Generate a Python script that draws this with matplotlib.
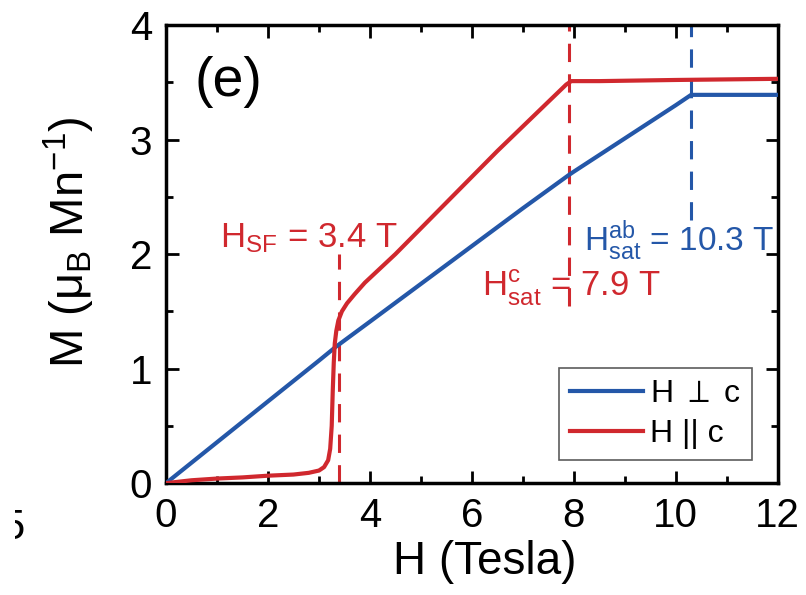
import matplotlib
matplotlib.use("Agg")
import matplotlib.pyplot as plt
from matplotlib.ticker import MultipleLocator
from matplotlib.patches import Rectangle

main = 'Liberation Sans'
plt.rcParams['font.family'] = [main, 'DejaVu Sans']
plt.rcParams['mathtext.fontset'] = 'custom'
plt.rcParams['mathtext.rm'] = main
plt.rcParams['mathtext.it'] = main
plt.rcParams['mathtext.bf'] = main

# Data
H_perp = [0, 1, 2, 3, 3.33, 4, 5, 6, 7, 7.9, 8, 9, 10, 10.3, 10.5, 11, 12]
M_perp = [0, 0.357, 0.714, 1.07, 1.19, 1.41, 1.74, 2.07, 2.40, 2.69, 2.72, 3.01, 3.30, 3.39, 3.39, 3.39, 3.39]

H_par = [0, 0.5, 1, 1.5, 2, 2.5, 2.8, 3.0, 3.1, 3.18, 3.22, 3.25, 3.27, 3.29, 3.31,
         3.34, 3.38, 3.45, 3.55, 3.7, 3.9, 4.5, 5.5, 6.5, 7.5, 7.85, 7.95, 8.5, 10, 12]
M_par = [0, 0.025, 0.04, 0.05, 0.065, 0.075, 0.09, 0.11, 0.14, 0.2, 0.3, 0.5, 0.8, 1.05, 1.22,
         1.33, 1.42, 1.5, 1.57, 1.65, 1.75, 2.0, 2.45, 2.9, 3.33, 3.48, 3.51, 3.51, 3.52, 3.53]

H_SF = 3.4
H_sat_c = 7.9
H_sat_ab = 10.3

blue = '#2457a8'
red = '#d0282e'

fig = plt.figure(figsize=(8.06, 5.95), dpi=100)
ax = fig.add_axes([0.206, 0.188, 0.759, 0.770])

ax.plot(H_perp, M_perp, color=blue, lw=3.0, label=r'H $\perp$ c', zorder=3)
ax.plot(H_par, M_par, color=red, lw=3.0, label='H || c', zorder=3)

ax.plot([H_SF, H_SF], [0, 2.0], color=red, lw=2.2, dashes=(6, 4), zorder=2)
ax.plot([H_sat_c, H_sat_c], [1.55, 4], color=red, lw=2.2, dashes=(6, 4), zorder=2)
ax.plot([H_sat_ab, H_sat_ab], [2.3, 4], color=blue, lw=2.2, dashes=(6, 4), zorder=2)

ax.text(1.05, 2.14, r'H$_{\mathrm{SF}}$ = 3.4 T', color=red, fontsize=25, va='center', ha='left')
ax.text(6.2, 1.7, r'H$^{\mathrm{c}}_{\mathrm{sat}}$ = 7.9 T', color=red, fontsize=25, va='center', ha='left')
ax.text(8.2, 2.12, r'H$^{\mathrm{ab}}_{\mathrm{sat}}$ = 10.3 T', color=blue, fontsize=24, va='center', ha='left')
ax.text(0.55, 3.5, '(e)', fontsize=40, va='center', ha='left')

ax.set_xlim(0, 12)
ax.set_ylim(0, 4)
ax.xaxis.set_major_locator(MultipleLocator(2))
ax.xaxis.set_minor_locator(MultipleLocator(1))
ax.yaxis.set_major_locator(MultipleLocator(1))
ax.yaxis.set_minor_locator(MultipleLocator(0.5))
ax.tick_params(which='both', direction='in', top=True, right=True, width=2)
ax.tick_params(which='major', length=9, labelsize=29)
ax.tick_params(axis='x', which='major', pad=10)
ax.tick_params(axis='y', which='major', pad=10)
ax.tick_params(which='minor', length=5)
for s in ax.spines.values():
    s.set_linewidth(2.5)

ax.set_xlabel('H (Tesla)', fontsize=33)
ax.xaxis.set_label_coords(0.521, -0.125)
ax.set_ylabel(r'M ($\mu_{\mathrm{B}}$ Mn$^{\mathrm{-1}}$)', fontsize=34)
ax.yaxis.set_label_coords(-0.113, 0.526)

leg = ax.legend(loc='lower right', fontsize=23, frameon=True, fancybox=False,
                edgecolor='#333333', handlelength=2.3, handletextpad=0.2,
                borderpad=0.35, labelspacing=0.3, borderaxespad=0,
                bbox_to_anchor=(0.9575, 0.05))
leg.get_frame().set_linewidth(1.2)

fig.text(0.031, 0.113, '5', fontsize=30, ha='right', va='center')
fig.patches.append(Rectangle((0, 0), 15 / 806, 1, transform=fig.transFigure,
                             facecolor='white', edgecolor='none', zorder=10))

fig.savefig('out.png', dpi=100)
